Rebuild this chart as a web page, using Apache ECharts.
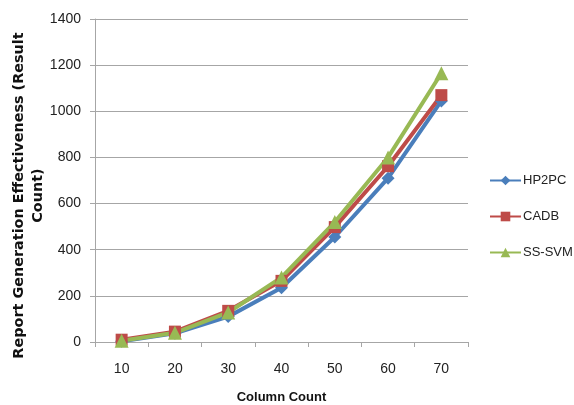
<!DOCTYPE html>
<html>
<head>
<meta charset="utf-8">
<script src="https://cdn.jsdelivr.net/npm/echarts@6/dist/echarts.min.js"></script>
<style>
  html, body { margin: 0; padding: 0; background: #fff; }
  #chart { width: 574px; height: 405px; }
</style>
</head>
<body>
<div id="chart"></div>
<script>
// Column counts on the x axis
const columnCounts = ['10', '20', '30', '40', '50', '60', '70'];
// Result counts per method
const hp2pc = [3, 38, 110, 235, 455, 710, 1045];
const cadb = [10, 45, 135, 265, 498, 762, 1070];
const ssSvm = [5, 40, 128, 280, 520, 800, 1165];
const yTicks = [0, 200, 400, 600, 800, 1000, 1200, 1400];

const labelFont = 'Liberation Sans, Arial, sans-serif';
const gridGray = '#a6a6a6';

const chart = echarts.init(document.getElementById('chart'), null, { renderer: 'canvas' });

function lineSeries(name, data, color, symbol, size) {
  return {
    name: name,
    type: 'line',
    data: data,
    symbol: symbol,
    symbolSize: size,
    lineStyle: { color: color, width: 4 },
    itemStyle: { color: color },
    animation: false
  };
}

chart.setOption({
  animation: false,
  backgroundColor: '#ffffff',
  grid: { left: 95, right: 106, top: 19, bottom: 63, containLabel: false, outerBoundsMode: 'none' },
  legend: {
    orient: 'vertical',
    left: 484,
    top: 169,
    itemGap: 23,
    itemWidth: 31,
    itemHeight: 12,
    textStyle: { fontFamily: labelFont, fontSize: 13, color: '#222', padding: [0, 0, 0, -3] },
    data: ['HP2PC', 'CADB', 'SS-SVM']
  },
  xAxis: {
    type: 'category',
    data: columnCounts,
    boundaryGap: true,
    name: 'Column Count',
    nameLocation: 'middle',
    nameGap: 49,
    nameMoveOverlap: false,
    nameTextStyle: { fontFamily: labelFont, fontWeight: 'bold', fontSize: 13, color: '#111' },
    axisLine: { lineStyle: { color: gridGray, width: 1 } },
    axisTick: { show: true, alignWithLabel: false, length: 5, lineStyle: { color: gridGray } },
    axisLabel: { fontFamily: labelFont, fontSize: 14, color: '#222', margin: 20 },
    splitLine: { show: false }
  },
  yAxis: {
    type: 'value',
    min: yTicks[0],
    max: yTicks[yTicks.length - 1],
    interval: 200,
    name: 'Report Generation Effectiveness (Result\nCount)',
    nameLocation: 'middle',
    nameRotate: 90,
    nameGap: 47,
    nameMoveOverlap: false,
    nameTextStyle: {
      fontFamily: 'DejaVu Sans, Verdana, sans-serif', fontWeight: 'bold', fontSize: 14.4,
      color: '#111', lineHeight: 19, align: 'center', padding: [0, 30, 0, 0]
    },
    axisLine: { show: true, lineStyle: { color: gridGray, width: 1 } },
    axisTick: { show: true, length: 5, lineStyle: { color: gridGray } },
    axisLabel: { fontFamily: labelFont, fontSize: 14, color: '#222', margin: 14, formatter: v => String(v) },
    splitLine: { show: true, lineStyle: { color: gridGray, width: 1 } }
  },
  series: [
    lineSeries('HP2PC', hp2pc, '#4a7ebb', 'diamond', 13),
    lineSeries('CADB', cadb, '#be4b48', 'rect', 12),
    lineSeries('SS-SVM', ssSvm, '#98b954', 'triangle', 14)
  ]
});
</script>
</body>
</html>
